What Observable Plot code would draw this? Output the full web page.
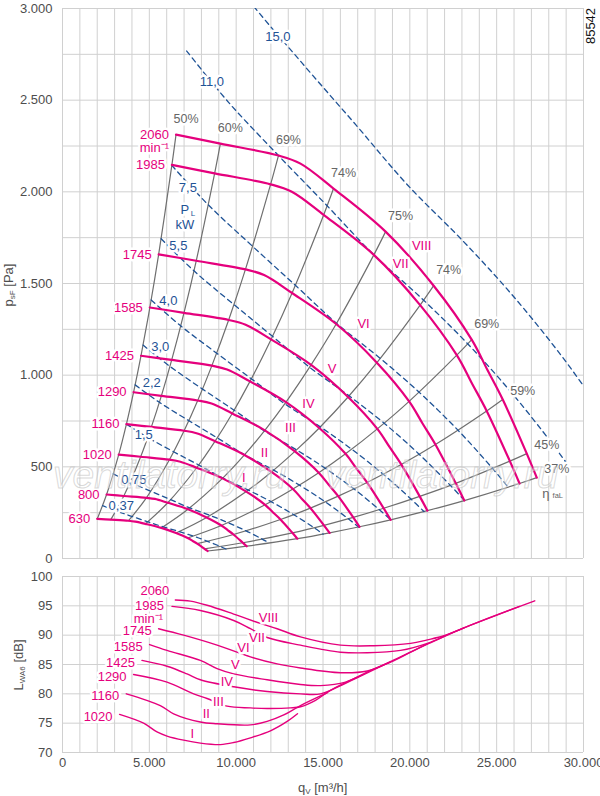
<!DOCTYPE html>
<html>
<head>
<meta charset="utf-8">
<script src="https://cdn.jsdelivr.net/npm/d3@7"></script>
<script src="https://cdn.jsdelivr.net/npm/@observablehq/plot@0.6"></script>
<style>
  body { margin: 0; background: #fff; font-family: "Liberation Sans", Arial, Helvetica, sans-serif; }
  #wrap { position: relative; width: 600px; height: 796px; overflow: hidden; }
  #wrap svg { position: absolute; left: 0; }
  .ov { position: absolute; white-space: nowrap; font-size: 13px; color: #4d4d4d; line-height: 1; }
  .rot { transform: translate(-50%, -50%) rotate(-90deg); }
  .ov sub { font-size: 8px; vertical-align: -2px; }
  .wm { position: absolute; font-size: 39px; font-style: italic; line-height: 39px; white-space: nowrap;
        color: rgba(255,255,255,0.35); -webkit-text-stroke: 1px rgba(185,185,185,0.55); pointer-events: none; }
</style>
</head>
<body>
<div id="wrap"></div>
<script>
// ---------- upper chart: fan curves (q in m3/h, p in Pa) ----------
const q2060 = [6537, 9091, 12435, 13704, 15606, 18604, 21372, 23562, 24485, 25349, 26733, 27310];
const p2060 = [2312, 2263, 2198, 2154, 2018, 1783, 1488, 1194, 1025, 867, 572, 441];
const q1985 = [6299, 8760, 11982, 13205, 15038, 17927, 20594, 22704, 23594, 24426, 25760, 26316];
const p1985 = [2147, 2101, 2041, 2000, 1874, 1656, 1382, 1109, 952, 805, 531, 409];
const q1745 = [5537, 7701, 10534, 11608, 13220, 15759, 18104, 19959, 20741, 21473, 22645, 23134];
const p1745 = [1659, 1624, 1577, 1546, 1448, 1279, 1068, 857, 735, 622, 410, 316];
const q1585 = [5030, 6995, 9568, 10544, 12008, 14314, 16444, 18129, 18839, 19504, 20569, 21012];
const p1585 = [1369, 1340, 1301, 1275, 1195, 1056, 881, 707, 607, 513, 339, 261];
const q1425 = [4522, 6289, 8602, 9480, 10796, 12869, 14784, 16299, 16937, 17535, 18493, 18892];
const p1425 = [1106, 1083, 1052, 1031, 966, 853, 712, 571, 490, 415, 274, 211];
const q1290 = [4094, 5693, 7787, 8582, 9773, 11650, 13383, 14755, 15332, 15874, 16741, 17102];
const p1290 = [907, 887, 862, 845, 791, 699, 584, 468, 402, 340, 224, 173];
const q1160 = [3681, 5119, 7002, 7717, 8788, 10476, 12035, 13268, 13788, 14274, 15054, 15379];
const p1160 = [733, 718, 697, 683, 640, 565, 472, 379, 325, 275, 181, 140];
const q1020 = [3237, 4501, 6157, 6786, 7727, 9212, 10582, 11667, 12124, 12552, 13237, 13522];
const p1020 = [567, 555, 539, 528, 495, 437, 365, 293, 251, 213, 140, 108];
const q800  = [2539, 3530, 4829, 5322, 6061, 7225, 8300, 9150, 9509, 9844, 10382, 10606];
const p800  = [349, 341, 331, 325, 304, 269, 224, 180, 155, 131, 86, 67];
const q630  = [1999, 2780, 3803, 4191, 4773, 5690, 6536, 7206, 7488, 7752, 8176, 8352];
const p630  = [216, 212, 206, 201, 189, 167, 139, 112, 96, 81, 53, 41];

const speedNames = ["2060", "1985", "1745", "1585", "1425", "1290", "1160", "1020", "800", "630"];
const speedQ = [q2060, q1985, q1745, q1585, q1425, q1290, q1160, q1020, q800, q630];
const speedP = [p2060, p1985, p1745, p1585, p1425, p1290, p1160, p1020, p800, p630];

// efficiency lines: which point of every speed curve they pass through
const rayIndex  = [0, 1, 2, 4, 5, 6, 7, 9, 10, 11];
const rayLabels = ["50%", "60%", "69%", "74%", "75%", "74%", "69%", "59%", "45%", "37%"];

// shaft power lines (kW)
const kwNames = ["0,37", "0,75", "1,5", "2,2", "3,0", "4,0", "5,5", "7,5", "11,0", "15,0"];
const qKw037 = [2309, 3079, 4014, 4918, 5788, 6713, 7531, 8351, 9082, 9412];
const pKw037 = [288, 260, 229, 200, 173, 147, 122, 94, 66, 52];
const qKw075 = [2922, 3896, 5080, 6225, 7325, 8496, 9532, 10569, 11495, 11913];
const pKw075 = [462, 416, 367, 321, 276, 235, 195, 151, 106, 84];
const qKw15  = [3681, 4909, 6400, 7842, 9228, 10703, 12009, 13315, 14482, 15008];
const pKw15  = [733, 660, 582, 510, 439, 373, 310, 239, 168, 133];
const qKw22  = [4183, 5577, 7272, 8910, 10485, 12161, 13644, 15129, 16454, 17052];
const pKw22  = [947, 852, 752, 658, 566, 482, 400, 309, 217, 172];
const qKw30  = [4638, 6185, 8064, 9880, 11627, 13485, 15130, 16776, 18245, 18909];
const pKw30  = [1164, 1048, 924, 809, 696, 592, 492, 380, 266, 211];
const qKw40  = [5105, 6807, 8876, 10875, 12797, 14843, 16653, 18465, 20082, 20813];
const pKw40  = [1410, 1269, 1120, 980, 844, 718, 596, 460, 323, 256];
const qKw55  = [5677, 7570, 9870, 12093, 14231, 16505, 18518, 20533, 22332, 23144];
const pKw55  = [1744, 1569, 1385, 1212, 1043, 887, 738, 569, 399, 317];
const qKw75  = [6295, 8394, 10944, 13410, 15780, 18302, 20535, 22769, 24763, 25663];
const pKw75  = [2144, 1929, 1703, 1490, 1283, 1091, 907, 700, 491, 389];
const qKw110 = [7152, 9537, 12435, 15236, 17929, 20795, 23331, 25870, 28136, 29159];
const pKw110 = [2768, 2491, 2198, 1924, 1656, 1409, 1171, 903, 634, 503];
const qKw150 = [7931, 10576, 13789, 16895, 19882, 23060, 25873, 28687, 31200, 32334];
const pKw150 = [3404, 3063, 2703, 2365, 2036, 1732, 1440, 1111, 779, 618];
const kwQ = [qKw037, qKw075, qKw15, qKw22, qKw30, qKw40, qKw55, qKw75, qKw110, qKw150];
const kwP = [pKw037, pKw075, pKw15, pKw22, pKw30, pKw40, pKw55, pKw75, pKw110, pKw150];
// where the kW values are written (data units)
const kwLabelQ = [3384, 4105, 4681, 5142, 5632, 6093, 6670, 7218, 8601, 12406];
const kwLabelP = [287, 429, 675, 959, 1156, 1407, 1707, 2024, 2602, 2847];

// roman numerals of the upper chart (data units)
const romanNames = ["VIII", "VII", "VI", "V", "IV", "III", "II", "I"];
const romanQ = [20679, 19468, 17335, 15519, 14165, 13127, 11628, 10446];
const romanP = [1706, 1608, 1281, 1035, 844, 713, 577, 440];

// ---------- lower chart: sound power LWA6 (dB) ----------
const lq2060 = [6497, 7362, 8325, 9858, 11397, 12360, 13704, 16010, 17929, 20045, 21007, 21964, 22927, 24081, 27193];
const ldb2060 = [96.0, 95.8, 95.1, 93.6, 92.0, 91.1, 89.7, 88.3, 88.2, 88.6, 89.2, 89.9, 91.0, 92.4, 95.85];
const lq1985 = [6307, 7938, 9858, 10821, 11784, 13704, 16010, 17549, 19468, 21007, 22350, 23504, 26317];
const ldb1985 = [94.9, 94.2, 92.5, 91.1, 89.6, 88.3, 87.1, 87.0, 87.4, 88.6, 90.3, 91.7, 94.9];
const lq1745 = [5534, 6976, 8901, 10821, 12360, 13704, 16010, 17549, 18892, 20045, 21025, 23135];
const ldb1745 = [91.1, 90.0, 88.3, 86.3, 85.1, 84.4, 83.6, 83.9, 85.4, 87.1, 88.5, 91.3];
const lq1585 = [5016, 6019, 7938, 8901, 9858, 11784, 13704, 14857, 16298, 17739, 18892, 21025];
const ldb1585 = [88.4, 87.4, 85.7, 84.3, 83.4, 82.4, 81.6, 81.4, 82.0, 84.0, 85.5, 88.5];
const lq1425 = [4577, 6019, 7172, 7938, 9858, 11784, 13704, 14857, 16298, 17163, 18892];
const ldb1425 = [85.7, 84.7, 83.4, 82.4, 81.2, 80.4, 80.0, 80.0, 81.8, 83.0, 85.5];
const lq1290 = [4093, 6019, 7552, 8325, 9478, 10821, 11784, 13127, 13704, 14569, 15433, 17105];
const ldb1290 = [83.3, 82.0, 80.0, 79.2, 77.9, 77.6, 77.5, 77.6, 77.8, 78.9, 80.6, 83.0];
const lq1160 = [3672, 5632, 6399, 7938, 8901, 10821, 11784, 12741, 13704, 15260];
const ldb1160 = [80.0, 78.0, 76.6, 75.2, 74.9, 74.7, 75.3, 76.4, 78.0, 80.2];
const lq1020 = [3286, 4670, 5442, 6019, 6976, 7938, 9091, 9858, 10821, 11974, 12937, 13531];
const ldb1020 = [76.5, 75.0, 73.5, 72.8, 72.1, 71.6, 71.35, 71.7, 72.5, 73.7, 75.3, 76.6];

const lowNames = ["2060", "1985", "1745", "1585", "1425", "1290", "1160", "1020"];
const lowQ = [lq2060, lq1985, lq1745, lq1585, lq1425, lq1290, lq1160, lq1020];
const lowDb = [ldb2060, ldb1985, ldb1745, ldb1585, ldb1425, ldb1290, ldb1160, ldb1020];
const romanLowQ = [11860, 11196, 10418, 9956, 9466, 8976, 8284, 7477];
const romanLowDb = [93.0, 89.6, 87.9, 85.0, 82.0, 78.6, 76.6, 73.2];

// ticks and grid
const xGrid = d3.range(0, 30001, 1000);
const xTicks = d3.range(0, 30001, 5000);
const yGridUp = d3.range(0, 3001, 250);
const yTicksUp = d3.range(0, 3001, 500);
const yTicksLow = d3.range(70, 101, 5);

// ---------- build tables ----------
const PINK = "#e5007d", BLUE = "#1f5396", GRAY = "#6f6f6f", GRID = "#d0d0d0", TXT = "#4d4d4d";
const FONT = '"Liberation Sans", Arial, Helvetica, sans-serif';
const fmt = d => d3.format(",")(d).replace(/,/g, ".");

const speedRows = speedNames.flatMap((n, i) => speedQ[i].map((q, j) => ({n, q, p: speedP[i][j]})));
const rayRows = rayIndex.flatMap((k, r) =>
  speedNames.map((n, i) => ({ray: r, q: speedQ[i][k], p: speedP[i][k], s: +n}))
    .sort((a, b) => a.s - b.s));
const kwRows = kwNames.flatMap((kw, i) => kwQ[i].map((q, j) => ({kw, q, p: kwP[i][j]})));
const speedLab = speedNames.map((n, i) => ({n, q: speedQ[i][0], p: speedP[i][0]}));
const effLab = rayIndex.map((k, r) => ({t: rayLabels[r], q: q2060[k], p: p2060[k], r}));
const kwLab = kwNames.map((t, i) => ({t, q: kwLabelQ[i], p: kwLabelP[i]}));
const romanLab = romanNames.map((t, i) => ({t, q: romanQ[i], p: romanP[i]}));

const lowRows = lowNames.flatMap((n, i) => lowQ[i].map((q, j) => ({n, q, db: lowDb[i][j]})));
const lowLab = lowNames.map((n, i) => ({n, q: lowQ[i][0], db: lowDb[i][0]}));
const romanLowLab = romanNames.map((t, i) => ({t, q: romanLowQ[i], db: romanLowDb[i]}));

const halo = {stroke: "white", strokeWidth: 5, paintOrder: "stroke"};

const upper = Plot.plot({
  width: 600, height: 566,
  marginLeft: 62, marginRight: 17, marginTop: 8, marginBottom: 8,
  style: {fontFamily: FONT, fontSize: "13px", color: TXT, background: "transparent", overflow: "visible"},
  x: {domain: [0, 30000], axis: null},
  y: {domain: [0, 3000], ticks: yTicksUp, tickFormat: fmt, tickSize: 0, tickPadding: 10, label: null},
  marks: [
    Plot.ruleX(xGrid, {stroke: GRID, strokeWidth: 1}),
    Plot.ruleY(yGridUp, {stroke: GRID, strokeWidth: 1}),
    Plot.line(rayRows, {x: "q", y: "p", z: "ray", stroke: GRAY, strokeWidth: 1.2, curve: "catmull-rom"}),
    Plot.line(kwRows, {x: "q", y: "p", z: "kw", stroke: BLUE, strokeWidth: 1.3, strokeDasharray: "5,4", curve: "catmull-rom", clip: true}),
    Plot.line(speedRows, {x: "q", y: "p", z: "n", stroke: PINK, strokeWidth: 2.2, curve: "catmull-rom"}),
    Plot.text(speedLab, {x: "q", y: "p", text: "n", fill: PINK, textAnchor: "end", dx: -7, fontSize: 13, ...halo}),
    Plot.text(speedLab.slice(0, 1), {x: "q", y: "p", text: () => "min⁻¹", fill: PINK, textAnchor: "end", dx: -7, dy: 13, fontSize: 13, ...halo}),
    Plot.text(effLab.filter(d => d.r < 4), {x: "q", y: "p", text: "t", fill: "#666", dx: 10, dy: -16, fontSize: 12.5, ...halo}),
    Plot.text(effLab.filter(d => d.r >= 4 && d.r < 7), {x: "q", y: "p", text: "t", fill: "#666", dx: 15, dy: -16, fontSize: 12.5, ...halo}),
    Plot.text(effLab.filter(d => d.r >= 7), {x: "q", y: "p", text: "t", fill: "#666", dx: 20, dy: -9, fontSize: 12.5, ...halo}),
    Plot.text(effLab.slice(-1), {x: "q", y: "p", text: () => "η", fill: "#666", dx: 9, dy: 16, fontSize: 13}),
    Plot.text(effLab.slice(-1), {x: "q", y: "p", text: () => "faL", fill: "#666", dx: 21, dy: 18, fontSize: 7.5}),
    Plot.text(kwLab, {x: "q", y: "p", text: "t", fill: BLUE, fontSize: 13, ...halo}),
    Plot.text(kwLab.slice(7, 8), {x: "q", y: "p", text: () => "P", fill: BLUE, dx: -3, dy: 22, fontSize: 13, ...halo}),
    Plot.text(kwLab.slice(7, 8), {x: "q", y: "p", text: () => "L", fill: BLUE, dx: 5, dy: 26, fontSize: 8}),
    Plot.text(kwLab.slice(7, 8), {x: "q", y: "p", text: () => "kW", fill: BLUE, dx: -3, dy: 37, fontSize: 13, ...halo}),
    Plot.text(romanLab, {x: "q", y: "p", text: "t", fill: PINK, fontSize: 13, ...halo})
  ]
});

const lower = Plot.plot({
  width: 600, height: 230,
  marginLeft: 62, marginRight: 17, marginTop: 10, marginBottom: 44,
  style: {fontFamily: FONT, fontSize: "13px", color: TXT, background: "transparent", overflow: "visible"},
  x: {domain: [0, 30000], ticks: xTicks, tickFormat: fmt, tickSize: 0, tickPadding: 5, label: null},
  y: {domain: [70, 100], ticks: yTicksLow, tickSize: 0, tickPadding: 10, label: null},
  marks: [
    Plot.ruleX(xGrid, {stroke: GRID, strokeWidth: 1}),
    Plot.ruleY(yTicksLow, {stroke: GRID, strokeWidth: 1}),
    Plot.line(lowRows, {x: "q", y: "db", z: "n", stroke: PINK, strokeWidth: 1.4, curve: "catmull-rom"}),
    Plot.text(lowLab.slice(0, 1), {x: "q", y: "db", text: "n", fill: PINK, textAnchor: "end", dx: -6, dy: -9, fontSize: 13, ...halo}),
    Plot.text(lowLab.slice(1, 2), {x: "q", y: "db", text: "n", fill: PINK, textAnchor: "end", dx: -8, dy: -1, fontSize: 13, ...halo}),
    Plot.text(lowLab.slice(1, 2), {x: "q", y: "db", text: () => "min⁻¹", fill: PINK, textAnchor: "end", dx: -9, dy: 12, fontSize: 13, ...halo}),
    Plot.text(lowLab.slice(2), {x: "q", y: "db", text: "n", fill: PINK, textAnchor: "end", dx: -7, dy: 2, fontSize: 13, ...halo}),
    Plot.text(romanLowLab, {x: "q", y: "db", text: "t", fill: PINK, fontSize: 13, ...halo})
  ]
});

const wrap = document.getElementById("wrap");
upper.style.top = "0px";
lower.style.top = "566px";
wrap.appendChild(upper);
wrap.appendChild(lower);

function overlay(html, cls, css) {
  const d = document.createElement("div");
  d.className = cls;
  d.innerHTML = html;
  Object.assign(d.style, css);
  wrap.appendChild(d);
}
overlay("p<sub>sF</sub> [Pa]", "ov rot", {left: "9px", top: "285px"});
overlay("L<sub>WA6</sub> [dB]", "ov rot", {left: "19px", top: "665px"});
overlay("q<sub>V</sub> [m³/h]", "ov", {left: "298px", top: "781px"});
overlay("85542", "ov rot", {left: "590px", top: "26px", color: "#111"});
overlay("ventilatorry.ru", "wm", {left: "53px", top: "455px"});
overlay("ventilatorry.ru", "wm", {left: "325px", top: "455px"});
</script>
</body>
</html>
